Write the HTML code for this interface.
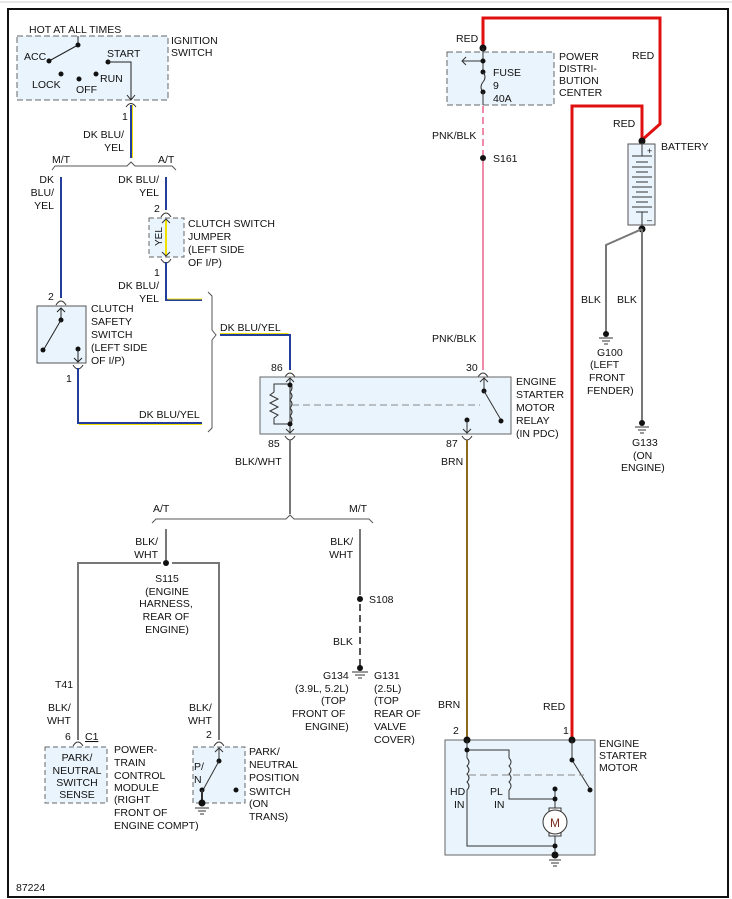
<!DOCTYPE html>
<html><head><style>
body{margin:0;background:#fff;}
svg{display:block;font-family:"Liberation Sans",sans-serif;font-size:10.5px;}
text{fill:#111;}
</style></head><body>
<svg width="732" height="899" viewBox="0 0 732 899" xmlns="http://www.w3.org/2000/svg">
<defs>
<marker id="ar" markerWidth="8" markerHeight="8" refX="4" refY="4" orient="auto"><path d="M0,1 L4,4 L0,7" fill="none" stroke="#222" stroke-width="1"/></marker>
</defs>
<line x1="0" y1="2" x2="732" y2="2" stroke="#ccc"/>
<rect x="8" y="9" width="720" height="888" fill="#fff" stroke="#111" stroke-width="2"/>

<!-- Ignition switch -->
<rect x="17" y="36" width="151" height="64" fill="#eaf4fc" stroke="#666" stroke-dasharray="6,3"/>
<text x="29" y="33">HOT AT ALL TIMES</text>
<text x="171" y="44">IGNITION</text><text x="171" y="56">SWITCH</text>
<text x="24" y="60">ACC</text>
<line x1="78" y1="45" x2="49" y2="61" stroke="#222"/><line x1="78" y1="36" x2="78" y2="45" stroke="#222"/>
<circle cx="78" cy="45" r="2.5" fill="#111"/><circle cx="49" cy="61" r="2.5" fill="#111"/>
<text x="107" y="57">START</text>
<circle cx="108" cy="62" r="2.5" fill="#111"/>
<polyline points="108,62 131,62 131,99" fill="none" stroke="#222"/>
<path d="M127,95 L131,100 L135,95" fill="none" stroke="#222"/>
<text x="32" y="88">LOCK</text><circle cx="61" cy="74" r="2.5" fill="#111"/>
<text x="76" y="93">OFF</text><circle cx="79" cy="79" r="2.5" fill="#111"/>
<circle cx="96" cy="74" r="2.5" fill="#111"/><text x="100" y="82">RUN</text>
<path d="M126,107 Q131,100 136,107" fill="none" stroke="#333"/>
<text x="122" y="120">1</text>
<line x1="131" y1="105" x2="131" y2="158" stroke="#223d9a" stroke-width="2"/><line x1="132.5" y1="105" x2="132.5" y2="158" stroke="#f0e000" stroke-width="1"/>
<text x="124" y="138" text-anchor="end">DK BLU/</text><text x="124" y="151" text-anchor="end">YEL</text>
<!-- bus 1 -->
<path d="M52,170 L55,166 L127,166 L131,162 L135,166 L172,166 L176,170" fill="none" stroke="#555"/>
<text x="52" y="163">M/T</text><text x="158" y="163">A/T</text>
<line x1="61" y1="177" x2="61" y2="298" stroke="#223d9a" stroke-width="2"/>
<text x="54" y="183" text-anchor="end">DK</text><text x="54" y="196" text-anchor="end">BLU/</text><text x="54" y="209" text-anchor="end">YEL</text>
<line x1="166" y1="177" x2="166" y2="210" stroke="#223d9a" stroke-width="2"/>
<text x="159" y="183" text-anchor="end">DK BLU/</text><text x="159" y="196" text-anchor="end">YEL</text>
<text x="154" y="212">2</text>
<path d="M161,217 Q166,209 171,217" fill="none" stroke="#333"/>
<rect x="149" y="218" width="35" height="39" fill="#eaf4fc" stroke="#666" stroke-dasharray="5,3"/>
<line x1="166" y1="220" x2="166" y2="256" stroke="#f0e000" stroke-width="2"/>
<path d="M162,223 L166,219 L170,223 M162,252 L166,256 L170,252" fill="none" stroke="#333"/>
<text transform="translate(162,246) rotate(-90)" font-size="10">YEL</text>
<text x="188" y="227">CLUTCH SWITCH</text><text x="188" y="240">JUMPER</text><text x="188" y="253">(LEFT SIDE</text><text x="188" y="266">OF I/P)</text>
<path d="M161,259 Q166,267 171,259" fill="none" stroke="#333"/>
<text x="154" y="276">1</text>
<polyline points="166,262 166,300 202,300" fill="none" stroke="#223d9a" stroke-width="2"/>
<line x1="167.5" y1="299" x2="202" y2="299" stroke="#f0e000" stroke-width="1"/>
<text x="159" y="289" text-anchor="end">DK BLU/</text><text x="159" y="302" text-anchor="end">YEL</text>
<!-- brace -->
<path d="M208,292 L212,296 L212,330 L216,335 L212,340 L212,428 L208,432" fill="none" stroke="#555"/>
<polyline points="220,335 290,335 290,370" fill="none" stroke="#223d9a" stroke-width="2"/>
<line x1="220" y1="333.5" x2="288.5" y2="333.5" stroke="#f0e000" stroke-width="1"/>
<text x="220" y="331">DK BLU/YEL</text>
<!-- clutch safety switch -->
<text x="48" y="300">2</text>
<path d="M56,305 Q61,297 66,305" fill="none" stroke="#333"/>
<rect x="37" y="306" width="49" height="57" fill="#eaf4fc" stroke="#555"/>
<line x1="61" y1="308" x2="61" y2="320" stroke="#222"/><path d="M57,312 L61,308 L65,312" fill="none" stroke="#222"/>
<circle cx="61" cy="320" r="2.5" fill="#111"/><line x1="61" y1="320" x2="44" y2="349" stroke="#222"/>
<circle cx="43" cy="350" r="2.5" fill="#111"/>
<circle cx="78" cy="349" r="2.5" fill="#111"/><line x1="78" y1="349" x2="78" y2="362" stroke="#222"/><path d="M74,358 L78,362 L82,358" fill="none" stroke="#222"/>
<text x="91" y="312">CLUTCH</text><text x="91" y="325">SAFETY</text><text x="91" y="338">SWITCH</text><text x="91" y="351">(LEFT SIDE</text><text x="91" y="364">OF I/P)</text>
<path d="M73,365 Q78,373 83,365" fill="none" stroke="#333"/>
<text x="66" y="382">1</text>
<polyline points="78,368 78,423 202,423" fill="none" stroke="#223d9a" stroke-width="2"/>
<line x1="79" y1="424.5" x2="202" y2="424.5" stroke="#f0e000" stroke-width="1"/>
<text x="139" y="418">DK BLU/YEL</text>

<!-- Relay -->
<text x="271" y="371">86</text><text x="466" y="371">30</text>
<path d="M285,377 Q290,369 295,377" fill="none" stroke="#333"/>
<path d="M478,377 Q483,369 488,377" fill="none" stroke="#333"/>
<rect x="260" y="377" width="251" height="57" fill="#eaf4fc" stroke="#666"/>
<polyline points="290,384 274,384 274,392 270,395 278,399 270,403 278,407 270,411 278,415 274,418 274,424 290,424" fill="none" stroke="#333"/>
<path d="M290,384 q4,4 0,8 q4,4 0,8 q4,4 0,8 q4,4 0,8 q4,4 0,8" fill="none" stroke="#333"/>
<line x1="290" y1="378" x2="290" y2="433" stroke="#333"/>
<path d="M286,382 L290,378 L294,382 M286,429 L290,433 L294,429" fill="none" stroke="#333"/>
<circle cx="290" cy="385" r="2.5" fill="#111"/><circle cx="290" cy="424" r="2.5" fill="#111"/>
<line x1="292" y1="405" x2="480" y2="405" stroke="#888" stroke-dasharray="7,4"/>
<line x1="484" y1="378" x2="484" y2="391" stroke="#333"/><path d="M480,382 L484,378 L488,382" fill="none" stroke="#333"/>
<circle cx="484" cy="391" r="2.5" fill="#111"/><line x1="484" y1="391" x2="501" y2="420" stroke="#333"/><circle cx="501" cy="421" r="2.5" fill="#111"/>
<circle cx="467" cy="420" r="2.5" fill="#111"/><line x1="467" y1="420" x2="467" y2="433" stroke="#333"/><path d="M463,429 L467,433 L471,429" fill="none" stroke="#333"/>
<text x="516" y="385">ENGINE</text><text x="516" y="398">STARTER</text><text x="516" y="411">MOTOR</text><text x="516" y="424">RELAY</text><text x="516" y="437">(IN PDC)</text>
<path d="M285,436 Q290,444 295,436" fill="none" stroke="#333"/>
<path d="M462,436 Q467,444 472,436" fill="none" stroke="#333"/>
<text x="268" y="447">85</text><text x="446" y="447">87</text>
<line x1="290" y1="440" x2="290" y2="514" stroke="#777" stroke-width="2"/>
<text x="235" y="465">BLK/WHT</text>
<line x1="467" y1="440" x2="467" y2="740" stroke="#8b6a1a" stroke-width="2"/>
<text x="441" y="465">BRN</text>
<!-- bus 2 -->
<path d="M152,523 L156,519 L286,519 L290,515 L294,519 L369,519 L373,523" fill="none" stroke="#555"/>
<text x="153" y="512">A/T</text><text x="349" y="512">M/T</text>
<line x1="166" y1="529" x2="166" y2="560" stroke="#777" stroke-width="2"/>
<text x="158" y="545" text-anchor="end">BLK/</text><text x="158" y="558" text-anchor="end">WHT</text>
<circle cx="166" cy="563" r="3" fill="#111"/>
<polyline points="161,563 78,563 78,740" fill="none" stroke="#777" stroke-width="2"/>
<polyline points="172,563 219,563 219,740" fill="none" stroke="#777" stroke-width="2"/>
<g text-anchor="middle"><text x="167" y="582">S115</text><text x="167" y="595">(ENGINE</text><text x="166" y="607">HARNESS,</text><text x="166" y="620">REAR OF</text><text x="167" y="633">ENGINE)</text></g>
<line x1="360" y1="529" x2="360" y2="595" stroke="#777" stroke-width="2"/>
<text x="353" y="545" text-anchor="end">BLK/</text><text x="353" y="558" text-anchor="end">WHT</text>
<circle cx="360" cy="599" r="3" fill="#111"/><text x="369" y="603">S108</text>
<line x1="360" y1="604" x2="360" y2="667" stroke="#555" stroke-width="2" stroke-dasharray="7,4"/>
<text x="333" y="645">BLK</text>
<circle cx="360" cy="668" r="3" fill="#111"/>
<path d="M352,672 H368 M355,675 H365 M358,678 H362" stroke="#333"/>
<text x="323" y="679">G134</text><text x="295" y="692">(3.9L, 5.2L)</text><text x="321" y="704">(TOP</text><text x="292" y="717">FRONT OF</text><text x="305" y="730">ENGINE)</text>
<text x="374" y="679">G131</text><text x="374" y="692">(2.5L)</text><text x="374" y="704">(TOP</text><text x="374" y="717">REAR OF</text><text x="374" y="730">VALVE</text><text x="374" y="743">COVER)</text>
<text x="55" y="688">T41</text><text x="48" y="711">BLK/</text><text x="47" y="724">WHT</text>
<text x="65" y="740">6</text><text x="85" y="740" text-decoration="underline">C1</text>
<path d="M73,746 Q78,738 83,746" fill="none" stroke="#333"/>
<rect x="45" y="747" width="62" height="56" fill="#eaf4fc" stroke="#666" stroke-dasharray="5,3"/>
<g text-anchor="middle"><text x="77" y="761">PARK/</text><text x="77" y="774">NEUTRAL</text><text x="77" y="786">SWITCH</text><text x="77" y="798">SENSE</text></g>
<text x="114" y="753">POWER-</text><text x="114" y="766">TRAIN</text><text x="114" y="779">CONTROL</text><text x="114" y="791">MODULE</text><text x="114" y="803">(RIGHT</text><text x="114" y="816">FRONT OF</text><text x="114" y="829">ENGINE COMPT)</text>
<text x="189" y="711">BLK/</text><text x="188" y="724">WHT</text><text x="206" y="738">2</text>
<path d="M214,746 Q219,738 224,746" fill="none" stroke="#333"/>
<rect x="193" y="747" width="52" height="56" fill="#eaf4fc" stroke="#666" stroke-dasharray="5,3"/>
<text x="194" y="770">P/</text><text x="194" y="783">N</text>
<line x1="219" y1="748" x2="219" y2="761" stroke="#333"/><path d="M215,752 L219,748 L223,752" fill="none" stroke="#333"/>
<circle cx="219" cy="761" r="2.5" fill="#111"/><line x1="219" y1="761" x2="203" y2="790" stroke="#333"/>
<circle cx="202" cy="790" r="2.5" fill="#111"/><circle cx="236" cy="790" r="2.5" fill="#111"/>
<line x1="202" y1="790" x2="202" y2="802" stroke="#333" stroke-width="2"/><circle cx="202" cy="803" r="3.5" fill="#111"/>
<path d="M195,808 H209 M198,811 H206 M200,814 H204" stroke="#333"/>
<text x="249" y="755">PARK/</text><text x="249" y="768">NEUTRAL</text><text x="249" y="781">POSITION</text><text x="249" y="795">SWITCH</text><text x="249" y="807">(ON</text><text x="249" y="820">TRANS)</text>

<!-- Right side: PDC, battery -->
<polyline points="483,47 483,18 660,18 660,124 642,140" fill="none" stroke="#e01010" stroke-width="3"/>
<polyline points="642,140 642,106 572,106 572,740" fill="none" stroke="#e01010" stroke-width="3"/>
<text x="456" y="42">RED</text><text x="632" y="59">RED</text><text x="613" y="127">RED</text>
<rect x="447" y="52" width="107" height="53" fill="#eaf4fc" stroke="#666" stroke-dasharray="6,3"/>
<circle cx="483" cy="48" r="3.5" fill="#111"/>
<line x1="483" y1="48" x2="483" y2="72" stroke="#333"/>
<line x1="483" y1="61" x2="462" y2="61" stroke="#333"/><path d="M466,57 L462,61 L466,65" fill="none" stroke="#333"/>
<circle cx="483" cy="61" r="2.5" fill="#111"/><circle cx="483" cy="72" r="2.5" fill="#111"/>
<path d="M483,72 q4,5 0,10 q-4,5 0,10" fill="none" stroke="#333"/>
<circle cx="483" cy="92" r="2.5" fill="#111"/><line x1="483" y1="92" x2="483" y2="105" stroke="#333"/>
<text x="493" y="76">FUSE</text><text x="493" y="89">9</text><text x="493" y="102">40A</text>
<text x="559" y="60">POWER</text><text x="559" y="72">DISTRI-</text><text x="559" y="84">BUTION</text><text x="559" y="96">CENTER</text>
<line x1="483" y1="106" x2="483" y2="155" stroke="#f08aa8" stroke-width="2" stroke-dasharray="7,4"/>
<text x="432" y="139">PNK/BLK</text>
<circle cx="483" cy="158" r="3" fill="#111"/><text x="493" y="162">S161</text>
<line x1="483" y1="161" x2="483" y2="370" stroke="#f08aa8" stroke-width="2"/>
<text x="432" y="342">PNK/BLK</text>
<circle cx="642" cy="141" r="3.5" fill="#111"/>
<rect x="628" y="144" width="27" height="81" fill="#eaf4fc" stroke="#555"/>
<text x="647" y="154" font-size="9">+</text><text x="647" y="223" font-size="9">–</text>
<g stroke="#333"><line x1="642" y1="144" x2="642" y2="156"/><line x1="632" y1="156" x2="652" y2="156"/><line x1="636" y1="162" x2="648" y2="162"/><line x1="632" y1="167" x2="652" y2="167"/><line x1="636" y1="172" x2="648" y2="172"/><line x1="632" y1="177" x2="652" y2="177"/><line x1="636" y1="182" x2="648" y2="182"/><line x1="632" y1="187" x2="652" y2="187"/><line x1="636" y1="192" x2="648" y2="192"/><line x1="632" y1="197" x2="652" y2="197"/><line x1="636" y1="202" x2="648" y2="202"/><line x1="632" y1="207" x2="652" y2="207"/><line x1="636" y1="212" x2="648" y2="212"/><line x1="642" y1="212" x2="642" y2="225"/></g>
<text x="661" y="150">BATTERY</text>
<circle cx="642" cy="229" r="3.5" fill="#111"/>
<polyline points="642,229 606,245 606,333" fill="none" stroke="#777" stroke-width="2"/>
<line x1="642" y1="229" x2="642" y2="421" stroke="#777" stroke-width="2"/>
<text x="581" y="303">BLK</text><text x="617" y="303">BLK</text>
<circle cx="606" cy="334" r="3" fill="#111"/><path d="M599,338 H613 M602,341 H610 M604,344 H608" stroke="#333"/>
<text x="597" y="356">G100</text><text x="590" y="368">(LEFT</text><text x="589" y="381">FRONT</text><text x="587" y="394">FENDER)</text>
<circle cx="642" cy="423" r="3" fill="#111"/><path d="M635,427 H649 M638,430 H646 M640,433 H644" stroke="#333"/>
<text x="632" y="446">G133</text><text x="633" y="459">(ON</text><text x="621" y="471">ENGINE)</text>

<!-- Starter motor -->
<text x="543" y="710">RED</text><text x="438" y="708">BRN</text>
<text x="453" y="734">2</text><text x="563" y="734">1</text>
<rect x="445" y="740" width="150" height="115" fill="#eaf4fc" stroke="#666"/>
<circle cx="467" cy="740" r="3.5" fill="#111"/><circle cx="572" cy="740" r="3.5" fill="#111"/>
<g fill="none" stroke="#333">
<polyline points="467,740 467,758"/>
<polyline points="467,750 509,750 509,758"/>
<path d="M467,758 q4,4 0,8 q4,4 0,8 q4,4 0,8 q4,4 0,8"/>
<path d="M509,758 q4,4 0,8 q4,4 0,8 q4,4 0,8 q4,4 0,8"/>
<polyline points="467,790 467,846 555,846"/>
<polyline points="509,790 509,799 555,799"/>
<line x1="555" y1="789" x2="555" y2="810"/><line x1="555" y1="834" x2="555" y2="855"/>
<line x1="572" y1="740" x2="572" y2="760"/><line x1="572" y1="760" x2="590" y2="789"/>
</g>
<circle cx="467" cy="750" r="2.5" fill="#111"/>
<rect x="549" y="808" width="12" height="4" fill="#fff" stroke="#333"/><rect x="549" y="832" width="12" height="4" fill="#fff" stroke="#333"/>
<circle cx="555" cy="822" r="12" fill="#fff" stroke="#333"/>
<text x="555" y="827" text-anchor="middle" font-size="12" fill="#8b2020" style="fill:#7a2a1a">M</text>
<circle cx="555" cy="789" r="2.5" fill="#111"/><circle cx="555" cy="799" r="2.5" fill="#111"/><circle cx="555" cy="846" r="2.5" fill="#111"/>
<circle cx="572" cy="760" r="2.5" fill="#111"/><circle cx="590" cy="790" r="2.5" fill="#111"/>
<line x1="469" y1="775" x2="584" y2="775" stroke="#888" stroke-dasharray="7,4"/>
<circle cx="555" cy="855" r="3.5" fill="#111"/><path d="M549,860 H561 M551,863 H559 M553,866 H557" stroke="#333"/>
<text x="450" y="795">HD</text><text x="454" y="808">IN</text><text x="490" y="795">PL</text><text x="494" y="808">IN</text>
<text x="599" y="747">ENGINE</text><text x="599" y="759">STARTER</text><text x="599" y="771">MOTOR</text>
<text x="16" y="891">87224</text>
</svg>
</body></html>
